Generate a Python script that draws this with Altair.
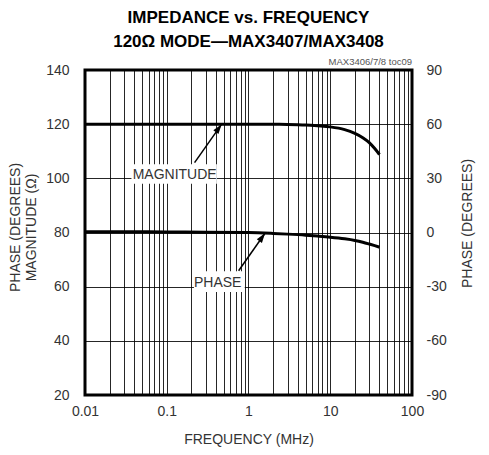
import altair as alt
import pandas as pd

# ---- data ----
freq = [0.01, 0.03, 0.1, 0.3, 1, 2, 3, 5, 7, 10, 15, 20, 25, 30, 35, 40]
magnitude = [120.0, 120.0, 120.0, 120.0, 120.0, 119.95, 119.9, 119.7, 119.4, 119.0, 118.0, 116.6, 115.0, 113.2, 111.0, 108.8]
phase = [0.4, 0.4, 0.3, 0.2, 0.0, -0.5, -0.9, -1.5, -2.0, -2.6, -3.5, -4.4, -5.4, -6.4, -7.3, -8.1]

x_ticks = [0.01, 0.1, 1, 10, 100]
x_grid = [round(k * d, 4) for d in [0.01, 0.1, 1, 10] for k in range(1, 10)] + [100]
mag_ticks = [20, 40, 60, 80, 100, 120, 140]
phase_ticks = [-90, -60, -30, 0, 30, 60, 90]

# annotations (data coordinates)
mag_label = {"text": "MAGNITUDE", "x": 0.125, "y": 101.4,
             "bx": 0.037, "bx2": 0.41, "by": 98.0, "by2": 105.2,
             "ax": 0.219, "ay": 105.8, "tx": 0.47, "ty": 120.0}
ph_label = {"text": "PHASE", "x": 0.42, "y": -27.8,
            "bx": 0.215, "bx2": 0.9, "by": -33.0, "by2": -21.5,
            "ax": 0.757, "ay": -21.2, "tx": 1.6, "ty": -0.3}

FONT = "Liberation Sans, Arial, sans-serif"
TXT = "#333333"

df = pd.DataFrame({"freq": freq, "mag": magnitude, "phase": phase})

xscale = alt.Scale(type="log", domain=[0.01, 100], nice=False)
xaxis = alt.Axis(values=x_grid, format="~g", grid=True, ticks=False, domain=False,
                 labelExpr="indexof([0.01,0.1,1,10,100], datum.value) >= 0 ? datum.label : ''",
                 labelFlush=False, labelOverlap=False, labelPadding=9,
                 title="FREQUENCY (MHz)", titlePadding=14)
yl_scale = alt.Scale(domain=[20, 140], nice=False, zero=False)
yr_scale = alt.Scale(domain=[-90, 90], nice=False, zero=False)
yl_axis = alt.Axis(values=mag_ticks, grid=True, ticks=False, domain=False,
                   labelPadding=16, title=["PHASE (DEGREES)", "MAGNITUDE (Ω)"],
                   titlePadding=7, titleY=157)
yr_axis = alt.Axis(orient="right", values=phase_ticks, grid=False, ticks=False, domain=False,
                   labelExpr="datum.value + ''", labelPadding=14,
                   title="PHASE (DEGREES)", titlePadding=28, titleAngle=270, titleY=153)

mag_line = alt.Chart(df).mark_line(color="black", strokeWidth=3, interpolate="monotone").encode(
    x=alt.X("freq:Q", scale=xscale, axis=xaxis),
    y=alt.Y("mag:Q", scale=yl_scale, axis=yl_axis),
)

def annot(d, yscale, yaxis):
    ad = pd.DataFrame([d])
    box = alt.Chart(ad).mark_rect(color="white").encode(
        x=alt.X("bx:Q", scale=xscale, axis=xaxis), x2="bx2:Q",
        y=alt.Y("by:Q", scale=yscale, axis=yaxis), y2="by2:Q")
    txt = alt.Chart(ad).mark_text(font=FONT, fontSize=14, color=TXT).encode(
        x=alt.X("x:Q", scale=xscale, axis=xaxis), y=alt.Y("y:Q", scale=yscale, axis=yaxis),
        text="text:N")
    rule = alt.Chart(ad).mark_rule(color="black", strokeWidth=1.5).encode(
        x=alt.X("ax:Q", scale=xscale, axis=xaxis), x2="tx:Q",
        y=alt.Y("ay:Q", scale=yscale, axis=yaxis), y2="ty:Q")
    head = alt.Chart(ad).mark_point(shape="M0,0 L-0.7,2.2 L0.7,2.2 Z", filled=True, opacity=1,
                                    color="black", size=81, angle=36).encode(
        x=alt.X("tx:Q", scale=xscale, axis=xaxis), y=alt.Y("ty:Q", scale=yscale, axis=yaxis))
    return [box, txt, rule, head]

toc = alt.Chart(pd.DataFrame({"t": ["MAX3406/7/8 toc09"], "x": [100], "y": [140]})).mark_text(
    font=FONT, fontSize=9.5, color="#555555", align="right", baseline="bottom", dy=-3, clip=False
).encode(x=alt.X("x:Q", scale=xscale, axis=xaxis), y=alt.Y("y:Q", scale=yl_scale, axis=yl_axis),
         text="t:N")

left = alt.layer(mag_line, *annot(mag_label, yl_scale, yl_axis), toc)

ph_line = alt.Chart(df).mark_line(color="black", strokeWidth=3, interpolate="monotone").encode(
    x=alt.X("freq:Q", scale=xscale, axis=xaxis),
    y=alt.Y("phase:Q", scale=yr_scale, axis=yr_axis),
)
right = alt.layer(ph_line, *annot(ph_label, yr_scale, yr_axis))

chart = alt.layer(left, right).resolve_scale(y="independent").properties(
    width=327, height=325,
    autosize="none",
    padding={"left": 77, "top": 62, "right": 69, "bottom": 52},
    title=alt.TitleParams(["IMPEDANCE vs. FREQUENCY", "120Ω MODE—MAX3407/MAX3408"],
                          font=FONT, fontSize=17, fontWeight="bold", color="black",
                          lineHeight=24, anchor="middle", offset=6),
).configure_view(stroke="black", strokeWidth=3).configure_axis(
    gridColor="black", gridWidth=1, gridOpacity=0.85,
    labelFont=FONT, labelFontSize=14, labelColor=TXT,
    titleFont=FONT, titleFontSize=14, titleFontWeight="normal", titleColor=TXT,
)

chart.save("out.html", embed_options={"renderer": "svg", "actions": False})
